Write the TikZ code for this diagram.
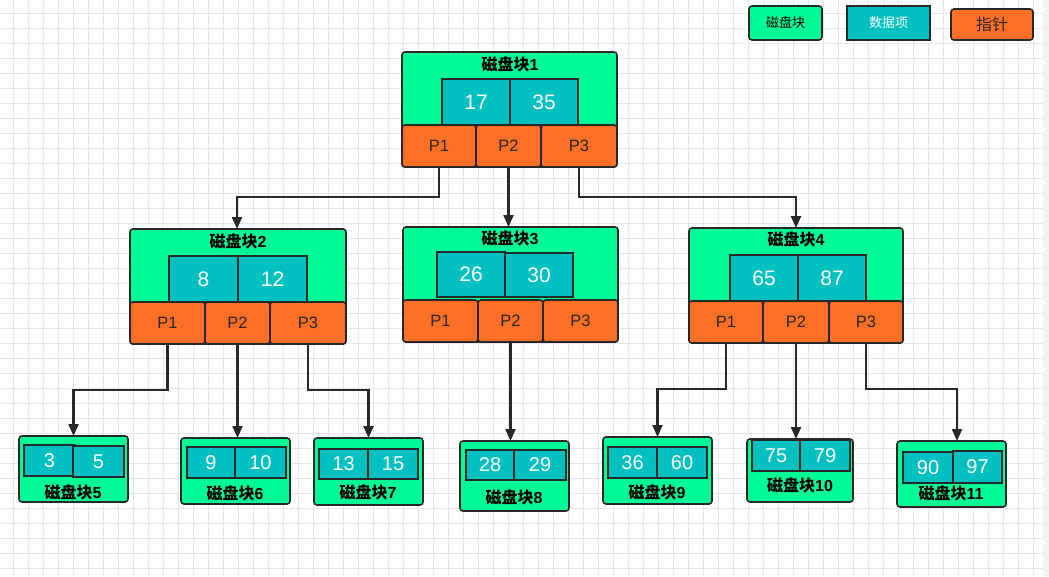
\documentclass[tikz,border=0pt]{standalone}
\usepackage{fontspec}
\setmainfont{Liberation Sans}
\newfontfamily\cjk{Noto Sans CJK SC}
\usetikzlibrary{arrows.meta}
\definecolor{diskg}{RGB}{0,250,150}
\definecolor{itemc}{RGB}{0,192,192}
\definecolor{ptrc}{RGB}{255,112,38}
\definecolor{edge}{RGB}{40,40,40}
\definecolor{gridc}{RGB}{230,230,230}
\definecolor{stripc}{RGB}{242,242,242}
\newcommand\mkbox[7]{\node[#2, minimum width={#5-#3}, minimum height={#6-#4}] (#1) at ({(#3+#5)/2},{(#4+#6)/2}) {#7};}
\newcommand\dk[1]{{\cjk 磁盘块}#1}
\begin{document}
\begin{tikzpicture}[x=1pt,y=-1pt,
  blk/.style={draw=edge, fill=diskg, rounded corners=3pt, line width=1.6pt, inner sep=0pt, outer sep=0pt},
  itm/.style={draw=edge, fill=itemc, line width=1.6pt, inner sep=0pt, outer sep=0pt, text=white, font=\fontsize{21}{22}\selectfont},
  sitm/.style={itm, font=\fontsize{20}{22}\selectfont},
  ptr/.style={draw=edge, fill=ptrc, rounded corners=3pt, line width=1.6pt, inner sep=0pt, outer sep=0pt, text=edge, font=\fontsize{16.5}{18}\selectfont},
  ttl/.style={inner sep=0pt, text=black, font=\fontsize{16}{18}\selectfont\bfseries},
  lbl/.style={inner sep=0pt, text=black, font=\fontsize{16}{18}\selectfont\bfseries},
  arr/.style={draw=edge, line width=2.2pt, -{Triangle[length=12pt,width=10pt]}}]
\useasboundingbox (0,0) rectangle (1049,576);
\fill[white] (0,0) rectangle (1049,576);
\foreach \k in {0,...,68} {\draw[gridc, line width=0.8pt] ({13+15*\k},0) -- ({13+15*\k},576);}
\foreach \k in {0,...,37} {\draw[gridc, line width=0.8pt] (0,{13+15*\k}) -- (1043,{13+15*\k});}
\fill[stripc] (1043,0) rectangle (1049,576);

% legend
\mkbox{lg1}{blk, font=\fontsize{13}{15}\selectfont\cjk}{749}{6}{822}{40}{磁盘块}
\mkbox{lg2}{itm, font=\fontsize{13}{15}\selectfont\cjk}{847}{6}{930}{40}{数据项}
\mkbox{lg3}{ptr, font=\fontsize{16}{18}\selectfont\cjk}{951}{9}{1033}{40}{指针}

% block 1
\mkbox{b1}{blk}{402}{52}{617}{167}{}
\node[ttl] (t1) at (510,64) {\dk{1}};
\mkbox{b1a}{itm}{442}{79}{510}{125}{17}
\mkbox{b1b}{itm}{510}{79}{578}{125}{35}
\mkbox{b1p1}{ptr}{402}{125}{476}{167}{P1}
\mkbox{b1p2}{ptr}{476}{125}{541}{167}{P2}
\mkbox{b1p3}{ptr}{541}{125}{617}{167}{P3}

% block 2
\mkbox{b2}{blk}{130}{229}{346}{344}{}
\node[ttl] (t2) at (238,241) {\dk{2}};
\mkbox{b2a}{itm}{169}{256}{238}{302}{8}
\mkbox{b2b}{itm}{238}{256}{307}{302}{12}
\mkbox{b2p1}{ptr}{130}{302}{205}{344}{P1}
\mkbox{b2p2}{ptr}{205}{302}{270}{344}{P2}
\mkbox{b2p3}{ptr}{270}{302}{346}{344}{P3}

% block 3
\mkbox{b3}{blk}{403}{227}{618}{342}{}
\node[ttl] (t3) at (510,238) {\dk{3}};
\mkbox{b3a}{itm}{437}{252}{505}{297}{26}
\mkbox{b3b}{itm}{505}{253}{573}{297}{30}
\mkbox{b3p1}{ptr}{403}{300}{478}{342}{P1}
\mkbox{b3p2}{ptr}{478}{300}{543}{342}{P2}
\mkbox{b3p3}{ptr}{543}{300}{618}{342}{P3}

% block 4
\mkbox{b4}{blk}{689}{228}{903}{343}{}
\node[ttl] (t4) at (796,239) {\dk{4}};
\mkbox{b4a}{itm}{730}{255}{798}{301}{65}
\mkbox{b4b}{itm}{798}{255}{866}{301}{87}
\mkbox{b4p1}{ptr}{689}{301}{763}{343}{P1}
\mkbox{b4p2}{ptr}{763}{301}{829}{343}{P2}
\mkbox{b4p3}{ptr}{829}{301}{903}{343}{P3}

% leaves
\mkbox{b5}{blk}{19}{436}{128}{502}{}
\mkbox{b5a}{sitm}{24}{445}{75}{476}{3}
\mkbox{b5b}{sitm}{73}{446}{124}{477}{5}
\node[lbl] (t5) at (73,492) {\dk{5}};

\mkbox{b6}{blk}{181}{438}{290}{504}{}
\mkbox{b6a}{sitm}{187}{447}{235}{478}{9}
\mkbox{b6b}{sitm}{235}{447}{286}{478}{10}
\node[lbl] (t6) at (235,493) {\dk{6}};

\mkbox{b7}{blk}{314}{438}{423}{505}{}
\mkbox{b7a}{sitm}{319}{449}{368}{479}{13}
\mkbox{b7b}{sitm}{368}{449}{418}{479}{15}
\node[lbl] (t7) at (368,492) {\dk{7}};

\mkbox{b8}{blk}{460}{441}{569}{511}{}
\mkbox{b8a}{sitm}{466}{450}{514}{480}{28}
\mkbox{b8b}{sitm}{514}{450}{566}{480}{29}
\node[lbl] (t8) at (514,497) {\dk{8}};

\mkbox{b9}{blk}{603}{437}{712}{504}{}
\mkbox{b9a}{sitm}{608}{447}{657}{478}{36}
\mkbox{b9b}{sitm}{657}{447}{707}{478}{60}
\node[lbl] (t9) at (657,492) {\dk{9}};

\mkbox{b10}{blk}{747}{439}{853}{502}{}
\mkbox{b10a}{sitm}{752}{440}{800}{471}{75}
\mkbox{b10b}{sitm}{800}{440}{850}{471}{79}
\node[lbl] (t10) at (800,485) {\dk{10}};

\mkbox{b11}{blk}{897}{441}{1006}{507}{}
\mkbox{b11a}{sitm}{903}{452}{953}{483}{90}
\mkbox{b11b}{sitm}{953}{451}{1002}{483}{97}
\node[lbl] (t11) at (951,493) {\dk{11}};

% connectors
\coordinate (h1) at (0,197);
\coordinate (h2) at (0,390);
\coordinate (h4) at (0,389);
\draw[arr] (b1p1.south) -- (b1p1.south |- h1) -| ([xshift=-1pt]b2.north);
\draw[arr] (b1p2.south) -- (b1p2.south |- b3.north);
\draw[arr] (b1p3.south) -- (b1p3.south |- h1) -| (b4.north);
\draw[arr] (b2p1.south) -- (b2p1.south |- h2) -| (b5.north);
\draw[arr] (b2p2.south) -- (b2p2.south |- b6.north);
\draw[arr] (b2p3.south) -- (b2p3.south |- h2) -| (b7.north);
\draw[arr] (b3p2.south) -- (b3p2.south |- b8.north);
\draw[arr] (b4p1.south) -- (b4p1.south |- h4) -| (b9.north);
\draw[arr] (b4p2.south) -- (b4p2.south |- b10.north);
\draw[arr] (b4p3.south) -- (b4p3.south |- h4) -| ([xshift=5.5pt]b11.north);
\end{tikzpicture}
\end{document}
